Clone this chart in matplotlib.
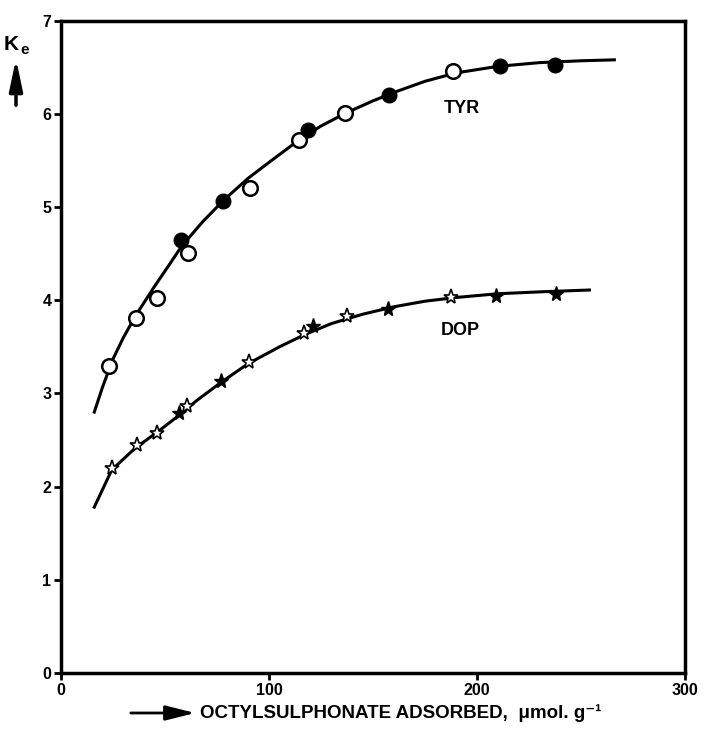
import matplotlib
matplotlib.use("Agg")
import matplotlib.pyplot as plt
from matplotlib.patches import FancyArrowPatch

plt.rcParams['font.family'] = ['Liberation Sans', 'DejaVu Sans']
plt.rcParams['font.weight'] = 'bold'

# TYR data points (open and filled circles)
tyr_open_x = [23.2, 36.1, 46.0, 60.9, 90.9, 114.6, 136.5, 188.3]
tyr_open_y = [3.29, 3.81, 4.02, 4.51, 5.21, 5.72, 6.01, 6.46]
tyr_fill_x = [57.7, 77.7, 118.9, 157.8, 211.0, 237.5]
tyr_fill_y = [4.65, 5.06, 5.83, 6.20, 6.51, 6.52]

# TYR fitted curve
tyr_curve_x = [16, 20, 25, 30, 36, 45, 52, 58, 68, 78, 90, 100, 115, 125, 137,
               150, 160, 175, 190, 210, 230, 250, 266]
tyr_curve_y = [2.80, 3.07, 3.37, 3.60, 3.84, 4.15, 4.38, 4.58, 4.84, 5.07, 5.31,
               5.48, 5.73, 5.87, 6.01, 6.14, 6.23, 6.35, 6.44, 6.51, 6.55, 6.57, 6.58]

# DOP data points (open and filled stars)
dop_open_x = [24.4, 36.4, 46.0, 60.4, 90.4, 116.8, 137.3, 187.4]
dop_open_y = [2.20, 2.45, 2.58, 2.86, 3.34, 3.65, 3.83, 4.04]
dop_fill_x = [56.9, 77.0, 121.0, 157.0, 209.0, 238.0]
dop_fill_y = [2.79, 3.13, 3.72, 3.91, 4.05, 4.07]

# DOP fitted curve
dop_curve_x = [16, 24.4, 36, 46, 57, 65, 77, 90, 105, 117, 130, 145, 160, 175,
               190, 210, 230, 254]
dop_curve_y = [1.78, 2.18, 2.42, 2.58, 2.77, 2.92, 3.12, 3.32, 3.50, 3.63, 3.75,
               3.85, 3.93, 3.99, 4.03, 4.07, 4.09, 4.11]

x_ticks = [0, 100, 200, 300]
y_ticks = [0, 1, 2, 3, 4, 5, 6, 7]

fig = plt.figure(figsize=(7.06, 7.34), dpi=100)
ax = fig.add_axes([0.0864, 0.0831, 0.884, 0.8887])

ax.plot(tyr_curve_x, tyr_curve_y, color='black', lw=2.2, zorder=2)
ax.plot(dop_curve_x, dop_curve_y, color='black', lw=2.2, zorder=2)

ax.plot(tyr_open_x, tyr_open_y, 'o', ms=10.5, mfc='white', mec='black', mew=1.8, zorder=3)
ax.plot(tyr_fill_x, tyr_fill_y, 'o', ms=10.5, mfc='black', mec='black', zorder=3)
ax.plot(dop_open_x, dop_open_y, '*', ms=11, mfc='white', mec='black', mew=1.2, zorder=3)
ax.plot(dop_fill_x, dop_fill_y, '*', ms=11, mfc='black', mec='black', zorder=3)

ax.text(192.6, 6.06, 'TYR', fontsize=13, fontweight='bold', ha='center', va='center')
ax.text(191.8, 3.68, 'DOP', fontsize=13, fontweight='bold', ha='center', va='center')

ax.set_xlim(0, 300)
ax.set_ylim(0, 7)
ax.set_xticks(x_ticks)
ax.set_yticks(y_ticks)
ax.tick_params(direction='out', length=5, width=2, labelsize=11.5, pad=2)
for lab in ax.get_xticklabels() + ax.get_yticklabels():
    lab.set_fontweight('bold')
for sp in ax.spines.values():
    sp.set_linewidth(2.5)

# y-axis label: K_e with upward arrow
fig.text(4 / 706, 1 - 44 / 734, 'K', fontsize=15, fontweight='bold', va='center', ha='left')
fig.text(20 / 706, 1 - 50 / 734, 'e', fontsize=11, fontweight='bold', va='center', ha='left')
fig.patches.append(FancyArrowPatch((16 / 706, 1 - 108 / 734), (16 / 706, 1 - 56 / 734),
                                   transform=fig.transFigure, figure=fig,
                                   arrowstyle='-|>,head_length=1.9,head_width=0.4',
                                   mutation_scale=10, lw=2.5, color='black'))

# x-axis label with arrow
fig.patches.append(FancyArrowPatch((128 / 706, 1 - 713 / 734), (198 / 706, 1 - 713 / 734),
                                   transform=fig.transFigure, figure=fig,
                                   arrowstyle='-|>,head_length=1.8,head_width=0.45',
                                   mutation_scale=10, lw=2, color='black'))
fig.text(200 / 706, 1 - 713 / 734, 'OCTYLSULPHONATE ADSORBED,  \u03bcmol. g\u207b\u00b9',
         fontsize=13.5, fontweight='bold', va='center', ha='left')

fig.savefig('out.png', dpi=100)
